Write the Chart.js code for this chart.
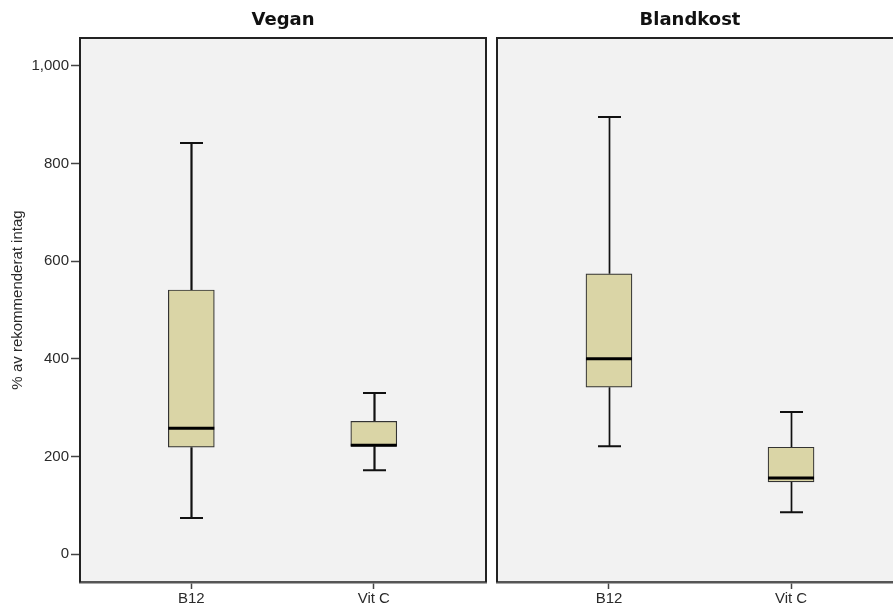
<!DOCTYPE html>
<html>
<head>
<meta charset="utf-8">
<script src="https://cdn.jsdelivr.net/npm/chart.js@4.4.1/dist/chart.umd.min.js"></script>
<style>
  html, body { margin: 0; padding: 0; background: #ffffff; overflow: hidden; }
  #wrap { position: relative; width: 893px; height: 607px; }
  #left { position: absolute; left: 0; top: 0; }
  #right { position: absolute; left: 490px; top: 0; }
</style>
</head>
<body>
<div id="wrap">
  <canvas id="left" width="488" height="607"></canvas>
  <canvas id="right" width="403" height="607"></canvas>
</div>
<script>
// Nutrient categories on the x axis
const categories = ['B12', 'Vit C'];
const panelTitles = ['Vegan', 'Blandkost'];
const yTickValues = [0, 200, 400, 600, 800, 1000];
const yAxisTitle = '% av rekommenderat intag';

// Five-number summaries (% of recommended intake)
const veganMin    = [74, 172];
const veganQ1     = [219, 221];
const veganMedian = [258, 223];
const veganQ3     = [541, 272];
const veganMax    = [842, 330];

const blandMin    = [221, 86];
const blandQ1     = [342, 148];
const blandMedian = [400, 156];
const blandQ3     = [574, 219];
const blandMax    = [895, 291];

const FONT = '"Liberation Sans", Arial, sans-serif';
const TEXT = '#2a2a2a';
const BOX_FILL = '#dad5a6';

// Panel background, frame, titles, whiskers and medians
const boxPlotPlugin = {
  id: 'boxPlot',
  beforeDraw(chart) {
    const { ctx, chartArea: a } = chart;
    ctx.save();
    ctx.fillStyle = '#f2f2f2';
    ctx.fillRect(a.left, a.top, a.right - a.left, a.bottom - a.top);
    ctx.restore();
  },
  beforeDatasetsDraw(chart, args, opts) {
    const { ctx, scales: { x, y } } = chart;
    ctx.save();
    ctx.strokeStyle = '#111';
    categories.forEach((c, i) => {
      const px = Math.round(x.getPixelForValue(i + 1)) + 0.5;
      const half = 11.5;
      const lo = y.getPixelForValue(opts.min[i]);
      const q1 = y.getPixelForValue(opts.q1[i]);
      const q3 = y.getPixelForValue(opts.q3[i]);
      const hi = y.getPixelForValue(opts.max[i]);
      ctx.lineWidth = opts.whiskerWidth;
      ctx.beginPath();
      ctx.moveTo(px, hi); ctx.lineTo(px, q3);
      ctx.moveTo(px, q1); ctx.lineTo(px, lo);
      ctx.stroke();
      ctx.lineWidth = 2;
      ctx.beginPath();
      ctx.moveTo(px - half, hi); ctx.lineTo(px + half, hi);
      ctx.moveTo(px - half, lo); ctx.lineTo(px + half, lo);
      ctx.stroke();
    });
    ctx.restore();
  },
  afterDatasetsDraw(chart, args, opts) {
    const { ctx, scales: { x, y } } = chart;
    ctx.save();
    ctx.strokeStyle = '#000';
    ctx.lineWidth = 3;
    categories.forEach((c, i) => {
      const px = x.getPixelForValue(i + 1);
      const py = y.getPixelForValue(opts.median[i]);
      ctx.beginPath();
      ctx.moveTo(px - 23, py); ctx.lineTo(px + 23, py);
      ctx.stroke();
    });
    ctx.restore();
  },
  afterDraw(chart, args, opts) {
    const { ctx, chartArea: a } = chart;
    ctx.save();
    // frame
    ctx.strokeStyle = '#222';
    ctx.lineWidth = 2;
    ctx.beginPath();
    ctx.moveTo(a.left, a.bottom);
    ctx.lineTo(a.left, a.top);
    ctx.lineTo(a.right, a.top);
    if (opts.rightEdge) ctx.lineTo(a.right, a.bottom);
    ctx.stroke();
    // panel title
    ctx.fillStyle = '#111';
    ctx.font = 'bold 18px "DejaVu Sans", Verdana, sans-serif';
    ctx.textAlign = 'center';
    ctx.textBaseline = 'alphabetic';
    ctx.fillText(opts.title, (a.left + a.right) / 2 + opts.titleDx, 25);
    // vertical axis title
    if (opts.yTitle) {
      ctx.translate(18, (a.top + a.bottom) / 2 - 10);
      ctx.rotate(-Math.PI / 2);
      ctx.fillStyle = TEXT;
      ctx.font = '15px ' + FONT;
      ctx.textBaseline = 'middle';
      ctx.fillText(opts.yTitle, 0, 0);
    }
    ctx.restore();
  }
};

function makeChart(id, p) {
  return new Chart(document.getElementById(id), {
    type: 'bar',
    data: {
      datasets: [{
        data: categories.map((c, i) => ({ x: i + 1, y: [p.q1[i], p.q3[i]] })),
        backgroundColor: BOX_FILL,
        borderColor: '#333',
        borderWidth: 1.2,
        borderSkipped: false,
        barThickness: 46
      }]
    },
    options: {
      responsive: false,
      animation: false,
      events: [],
      layout: { padding: { top: 38, left: p.padLeft, right: p.padRight, bottom: 0 } },
      plugins: {
        legend: { display: false },
        tooltip: { enabled: false },
        boxPlot: {
          min: p.min, q1: p.q1, median: p.median, q3: p.q3, max: p.max,
          title: p.title, titleDx: p.titleDx, rightEdge: p.rightEdge,
          whiskerWidth: p.whiskerWidth, yTitle: p.showY ? yAxisTitle : null
        }
      },
      scales: {
        x: {
          type: 'linear',
          offset: false,
          min: p.xMin,
          max: p.xMax,
          afterBuildTicks: s => { s.ticks = categories.map((c, i) => ({ value: i + 1 })); },
          afterFit: s => { s.height = 25; },
          ticks: {
            callback: v => categories[v - 1],
            font: { family: FONT, size: 15 },
            color: TEXT,
            padding: 1,
            maxRotation: 0
          },
          grid: { offset: false, drawOnChartArea: false, drawTicks: true, tickLength: 7, tickColor: '#444', tickWidth: 1.5 },
          border: { display: true, color: '#555', width: 2.5 }
        },
        y: {
          display: p.showY,
          min: -57,
          max: 1057,
          afterBuildTicks: s => { s.ticks = yTickValues.map(v => ({ value: v })); },
          afterFit: s => { s.width = p.showY ? 80 : 0; },
          ticks: {
            callback: v => v.toLocaleString('en-US'),
            font: { family: FONT, size: 15 },
            color: TEXT,
            padding: 2
          },
          grid: { drawOnChartArea: false, drawTicks: true, tickLength: 9, tickColor: '#444', tickWidth: 1.5 },
          border: { display: true, color: '#444', width: 2 }
        }
      }
    },
    plugins: [boxPlotPlugin]
  });
}

makeChart('left', {
  title: panelTitles[0], titleDx: 0, rightEdge: true, showY: true,
  padLeft: 0, padRight: 2, xMin: 0.39, xMax: 2.615, whiskerWidth: 2.2,
  min: veganMin, q1: veganQ1, median: veganMedian, q3: veganQ3, max: veganMax
});

makeChart('right', {
  title: panelTitles[1], titleDx: -5, rightEdge: false, showY: false,
  padLeft: 7, padRight: 0, xMin: 0.385, xMax: 2.56, whiskerWidth: 1.7,
  min: blandMin, q1: blandQ1, median: blandMedian, q3: blandQ3, max: blandMax
});
</script>
</body>
</html>
